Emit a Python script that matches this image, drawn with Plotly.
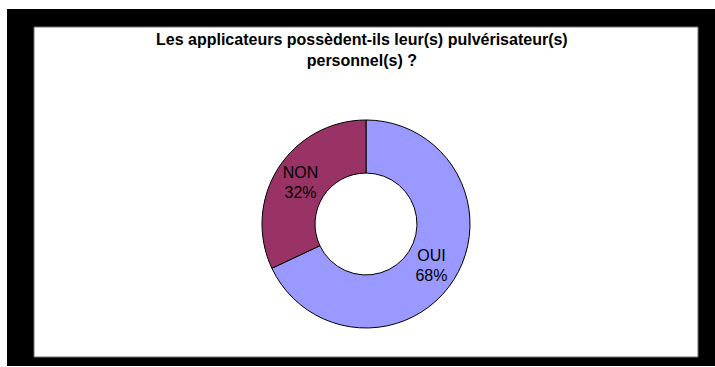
import plotly.graph_objects as go

# Survey answers and their shares (%)
labels = ["OUI", "NON"]
values = [68, 32]
colors = ["#9999FF", "#993366"]

W, H = 715, 367

def px_x(x):
    return x / W

def px_y(y):
    return 1 - y / H

# Donut centre and radius in pixels
cx, cy, r = 366, 224, 104

FONT = "Liberation Sans, Arial, sans-serif"

fig = go.Figure(
    go.Pie(
        labels=labels,
        values=values,
        hole=0.49,
        sort=False,
        direction="clockwise",
        rotation=0,
        marker=dict(colors=colors, line=dict(color="#000000", width=1)),
        texttemplate="%{label}<br>%{percent:.0%}",
        textposition="inside",
        insidetextorientation="horizontal",
        textfont=dict(family=FONT, size=16, color="#000000"),
        showlegend=False,
        domain=dict(x=[px_x(cx - r), px_x(cx + r)], y=[px_y(cy + r), px_y(cy - r)]),
    )
)

fig.update_layout(
    width=W,
    height=H,
    margin=dict(l=0, r=0, t=0, b=0),
    paper_bgcolor="#FFFFFF",
    plot_bgcolor="#FFFFFF",
    shapes=[
        dict(type="rect", xref="paper", yref="paper", layer="below",
             x0=px_x(7), x1=px_x(715), y0=px_y(366), y1=px_y(9),
             fillcolor="#000000", line=dict(width=0)),
        dict(type="rect", xref="paper", yref="paper", layer="below",
             x0=px_x(34), x1=px_x(698), y0=px_y(357), y1=px_y(27),
             fillcolor="#FFFFFF", line=dict(color="#707070", width=1)),
    ],
    annotations=[
        dict(
            text="<b>Les applicateurs possèdent-ils leur(s) pulvérisateur(s)<br>personnel(s) ?</b>",
            x=px_x(362), y=px_y(29), xref="paper", yref="paper",
            xanchor="center", yanchor="top", showarrow=False,
            font=dict(family=FONT, size=16, color="#000000"),
        )
    ],
)

fig.write_html("out.html")
